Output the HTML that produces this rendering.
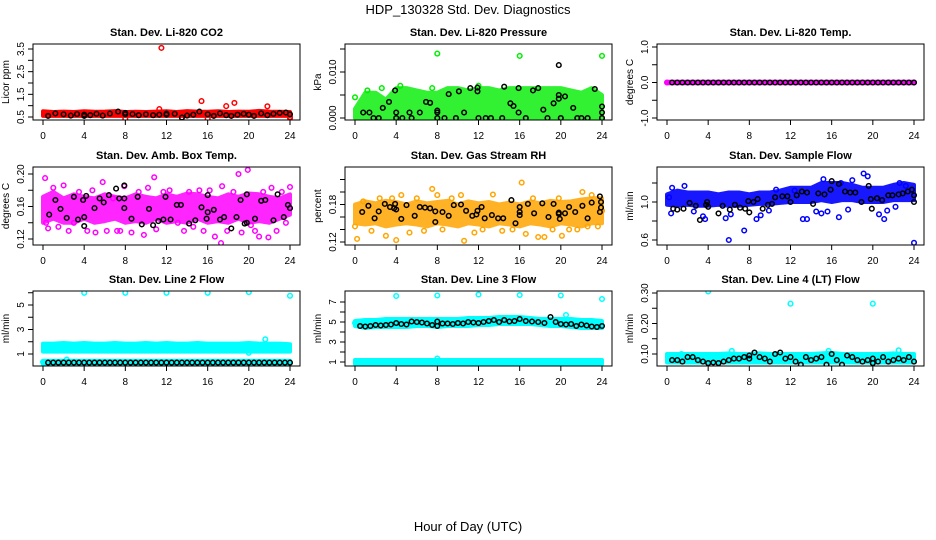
<!DOCTYPE html>
<html><head><meta charset="utf-8"><style>
html,body{margin:0;padding:0;background:#fff;}
svg{display:block;font-family:"Liberation Sans",sans-serif;}
</style></head><body>
<svg id="chart" width="936" height="540" viewBox="0 0 936 540">
<text x="468" y="14" font-size="13" text-anchor="middle">HDP_130328  Std. Dev. Diagnostics</text>
<text x="468" y="531" font-size="13" text-anchor="middle">Hour of Day (UTC)</text>
</svg>
<script>
// ---------- data ----------
const hours = [0,1,2,3,4,5,6,7,8,9,10,11,12,13,14,15,16,17,18,19,20,21,22,23,24];
const xTicks = [0,4,8,12,16,20,24];

const co2Lo = [0.55,0.55,0.55,0.55,0.55,0.55,0.55,0.55,0.55,0.55,0.55,0.55,0.55,0.55,0.55,0.55,0.55,0.55,0.55,0.55,0.55,0.55,0.55,0.55,0.55];
const co2Hi = [0.75,0.72,0.74,0.72,0.75,0.73,0.74,0.76,0.72,0.73,0.72,0.74,0.75,0.72,0.76,0.74,0.73,0.75,0.72,0.74,0.73,0.77,0.74,0.73,0.72];
const co2Pts = [[11.5,3.55],[15.4,1.2],[18.6,1.12],[17.8,0.98],[21.8,0.97],[11.3,0.85],[8,0.42],[16,0.42],[24,0.45],[13.5,0.47],[0.2,0.62],[24,0.5]];
const co2Black = [[0.5,0.55],[1.2,0.66],[2,0.62],[2.7,0.56],[3.3,0.63],[4,0.6],[4,0.55],[4.6,0.58],[5.2,0.64],[5.8,0.56],[6.5,0.65],[7.3,0.74],[8,0.62],[8,0.68],[8.7,0.63],[9.3,0.58],[10,0.62],[10.7,0.58],[11.3,0.6],[12,0.65],[12,0.6],[12.8,0.64],[13.5,0.48],[14,0.56],[14.6,0.6],[15.2,0.74],[16,0.62],[16.6,0.55],[17.2,0.66],[17.8,0.58],[18.3,0.55],[18.9,0.6],[19.5,0.64],[20,0.6],[20.5,0.55],[21.2,0.66],[21.8,0.58],[22.4,0.64],[23,0.68],[23.6,0.7],[24,0.62]];

const presLo = [0,0,0,0,0,0,0,0,0,0,0,0,0,0,0,0,0,0,0,0,0,0,0,0,0];
const presHi = [0.002,0.0055,0.0055,0.004,0.0065,0.0065,0.006,0.0055,0.0055,0.0065,0.0065,0.006,0.0065,0.0065,0.006,0.0065,0.0065,0.0065,0.0065,0.0065,0.0065,0.006,0.0055,0.0065,0.005];
const presPts = [[8,0.014],[16,0.0135],[24,0.0135],[0,0.0045],[1.2,0.006],[2.6,0.0065],[4.4,0.007],[7.5,0.0065],[12,0.007]];
const presBlack = [[1.8,0],[2.3,0],[4,0],[4.6,0],[5.5,0],[8,0],[8.7,0],[9.8,0],[12,0],[12.7,0],[13.2,0],[14.3,0],[16.6,0],[18.7,0],[20,0],[21.6,0],[22,0],[22.6,0],[24,0],[0.8,0.0012],[1.4,0.0012],[2.7,0.0022],[3.3,0.0035],[3.9,0.006],[4,0.0012],[5.3,0.0012],[6.3,0.0012],[6.9,0.0035],[7.3,0.0033],[8,0.0012],[8,0.0016],[9.1,0.0052],[10.1,0.0058],[10.6,0.0012],[11.2,0.0065],[11.9,0.0058],[11.9,0.0066],[14.5,0.0068],[15.1,0.0032],[15.4,0.0026],[15.9,0.0065],[15.9,0.0012],[17.3,0.006],[17.8,0.0065],[18.3,0.0018],[19.3,0.0032],[19.8,0.0115],[19.8,0.005],[19.8,0.0042],[20.4,0.0047],[21.2,0.0022],[23.3,0.0063],[24,0.0025],[24,0.0012]];

const tempLo = [-0.02,-0.02,-0.02,-0.02,-0.02,-0.02,-0.02,-0.02,-0.02,-0.02,-0.02,-0.02,-0.02,-0.02,-0.02,-0.02,-0.02,-0.02,-0.02,-0.02,-0.02,-0.02,-0.02,-0.02,-0.02];
const tempHi = [0.02,0.02,0.02,0.02,0.02,0.02,0.02,0.02,0.02,0.02,0.02,0.02,0.02,0.02,0.02,0.02,0.02,0.02,0.02,0.02,0.02,0.02,0.02,0.02,0.02];
const tempPts = [[0,0],[24,0]];
const tempBlack = [[0.5,0],[1,0],[1.5,0],[2,0],[2.5,0],[3,0],[3.5,0],[4,0],[4.5,0],[5,0],[5.5,0],[6,0],[6.5,0],[7,0],[7.5,0],[8,0],[8.5,0],[9,0],[9.5,0],[10,0],[10.5,0],[11,0],[11.5,0],[12,0],[12.5,0],[13,0],[13.5,0],[14,0],[14.5,0],[15,0],[15.5,0],[16,0],[16.5,0],[17,0],[17.5,0],[18,0],[18.5,0],[19,0],[19.5,0],[20,0],[20.5,0],[21,0],[21.5,0],[22,0],[22.5,0],[23,0],[23.5,0],[24,0]];

const ambLo = [0.14,0.145,0.14,0.14,0.145,0.14,0.142,0.145,0.14,0.142,0.14,0.145,0.14,0.142,0.14,0.145,0.14,0.142,0.14,0.145,0.14,0.142,0.14,0.145,0.15];
const ambHi = [0.172,0.178,0.17,0.175,0.172,0.17,0.175,0.172,0.17,0.175,0.172,0.17,0.175,0.172,0.176,0.175,0.172,0.17,0.175,0.172,0.176,0.175,0.172,0.17,0.175];
const ambPts = [[0.2,0.195],[0.3,0.14],[0.5,0.133],[1,0.183],[1.5,0.135],[2,0.186],[2.5,0.13],[3,0.14],[3.5,0.178],[4.3,0.13],[4.8,0.18],[5.1,0.128],[5.8,0.19],[6.2,0.13],[6.8,0.17],[7.2,0.13],[7.9,0.185],[7.5,0.13],[8.6,0.128],[9.3,0.178],[9.8,0.125],[10.2,0.183],[10.8,0.196],[11,0.132],[11.7,0.178],[12.3,0.18],[13.1,0.14],[13.7,0.13],[14.2,0.178],[14.6,0.135],[15.2,0.18],[15.6,0.13],[16.2,0.18],[16.7,0.123],[17.4,0.185],[17.3,0.115],[17.9,0.13],[18.5,0.178],[19,0.2],[19.3,0.128],[19.9,0.205],[20.2,0.137],[20.6,0.13],[21,0.123],[21.4,0.178],[21.9,0.122],[22.2,0.183],[22.7,0.13],[23.2,0.178],[23.6,0.14],[24,0.184]];
const ambBlack = [[0.6,0.15],[1.2,0.168],[1.7,0.157],[2.3,0.146],[3,0.172],[3.4,0.144],[3.9,0.168],[4,0.136],[4,0.147],[4.2,0.173],[5,0.158],[5.5,0.17],[5.9,0.165],[6.4,0.174],[7.1,0.182],[7.4,0.17],[7.9,0.186],[7.9,0.158],[7.9,0.17],[8.6,0.145],[9.2,0.172],[9.6,0.138],[10.3,0.157],[10.7,0.137],[11.2,0.142],[11.7,0.144],[11.9,0.172],[12.4,0.144],[13,0.162],[13.4,0.162],[14.2,0.139],[14.8,0.143],[15.4,0.159],[15.9,0.145],[16,0.174],[16,0.153],[16.6,0.156],[17.2,0.144],[17.6,0.147],[18.3,0.133],[18.8,0.147],[19.2,0.168],[19.6,0.139],[19.8,0.175],[19.8,0.14],[20.6,0.145],[21.2,0.167],[21.6,0.168],[22.4,0.143],[22.8,0.175],[23.4,0.147],[23.8,0.162],[24,0.158]];

const rhLo = [0.15,0.148,0.15,0.145,0.148,0.15,0.148,0.145,0.15,0.148,0.145,0.15,0.148,0.145,0.15,0.148,0.145,0.15,0.148,0.145,0.15,0.148,0.145,0.15,0.15];
const rhHi = [0.18,0.185,0.182,0.186,0.184,0.18,0.185,0.182,0.184,0.186,0.18,0.185,0.182,0.184,0.18,0.183,0.18,0.185,0.182,0.186,0.184,0.185,0.188,0.19,0.19];
const rhPts = [[0,0.145],[0.2,0.125],[0.8,0.185],[1.6,0.138],[2.4,0.19],[3,0.13],[3.6,0.19],[4,0.123],[4.5,0.195],[5.3,0.135],[6,0.19],[6.7,0.138],[7.5,0.205],[8,0.195],[8.5,0.14],[9.4,0.19],[10.3,0.195],[10.6,0.122],[11.6,0.135],[12.4,0.14],[13.4,0.196],[14.3,0.138],[15.3,0.14],[16.2,0.215],[16.6,0.133],[17.3,0.19],[17.8,0.128],[18.4,0.128],[19.2,0.14],[19.8,0.19],[20.1,0.13],[20.8,0.14],[21.6,0.14],[22.1,0.2],[22.6,0.145],[23,0.195],[23.6,0.145],[24,0.17]];
const rhBlack = [[0.7,0.168],[1.3,0.178],[1.9,0.158],[2.3,0.169],[2.9,0.181],[3.4,0.176],[3.8,0.174],[3.9,0.181],[4,0.172],[4.5,0.157],[5,0.179],[5.8,0.162],[6.3,0.176],[6.8,0.175],[7.3,0.174],[7.8,0.169],[7.8,0.152],[8.5,0.168],[9.1,0.162],[9.6,0.179],[10.3,0.18],[10.8,0.17],[11.4,0.162],[11.8,0.164],[11.9,0.17],[12.3,0.176],[12.6,0.158],[13.3,0.163],[13.9,0.158],[14.4,0.158],[15.2,0.187],[15.6,0.15],[16,0.176],[16,0.168],[16,0.163],[16.8,0.181],[17.4,0.166],[18.2,0.182],[18.8,0.16],[19.3,0.181],[19.8,0.167],[19.8,0.165],[19.9,0.157],[20.4,0.166],[20.8,0.176],[21.4,0.168],[22.1,0.178],[22.6,0.158],[23,0.183],[23.8,0.193],[23.9,0.184],[23.9,0.175],[23.8,0.168]];

const flowLo = [0.97,0.96,0.97,0.96,0.96,0.97,0.96,0.96,0.97,0.98,0.98,0.99,1.0,1.0,1.0,1.02,1.0,1.02,1.02,1.0,1.0,1.0,1.02,1.02,1.02];
const flowHi = [1.08,1.12,1.1,1.1,1.1,1.08,1.1,1.1,1.08,1.1,1.1,1.12,1.15,1.15,1.15,1.2,1.2,1.2,1.18,1.15,1.15,1.15,1.18,1.2,1.18];
const flowPts = [[0.2,1.05],[0.4,0.88],[0.5,1.15],[1.7,1.17],[2.6,0.9],[3.5,0.85],[3.7,0.82],[6,0.6],[6.2,0.87],[5.7,0.83],[7.5,0.7],[8.7,0.82],[9.1,0.86],[9.9,0.91],[10.6,1.13],[12.4,1.12],[13.2,0.82],[13.6,0.82],[14.5,0.9],[15.6,0.9],[15,0.88],[15.2,1.24],[16.7,0.84],[16.9,1.2],[17.6,0.92],[18,1.23],[19.1,1.3],[19.5,1.27],[20.6,0.87],[21.1,0.82],[21.4,0.91],[22.2,0.95],[22.6,1.2],[23.2,1.17],[24,0.57]];
const flowBlack = [[0.6,0.93],[1,0.92],[1.6,0.93],[2.2,0.99],[2.8,0.96],[3.2,0.81],[3.8,0.97],[3.9,1.0],[4,0.95],[5,0.88],[5.4,0.96],[6.1,0.92],[6.6,0.97],[7.1,0.94],[7.6,0.93],[7.9,1.01],[8,0.89],[8.4,1.0],[8.8,1.03],[9.3,0.93],[9.8,0.97],[10.2,0.98],[10.5,1.05],[11.2,1.06],[11.7,1.06],[12,1.0],[12.6,1.07],[13.1,1.11],[13.6,1.1],[14.2,0.98],[14.7,1.09],[15.3,1.08],[15.9,1.13],[16,1.22],[16.7,1.19],[17.3,1.11],[17.8,1.1],[18.3,1.1],[18.9,1.0],[19.6,1.17],[19.8,1.03],[19.9,0.93],[20.4,1.04],[20.9,1.02],[21.5,1.07],[21.9,1.07],[22.5,1.08],[22.9,1.09],[23.4,1.11],[23.8,1.13],[24,1.0],[24,1.07]];

const l2Lo = [1.2,1.2,1.2,1.2,1.2,1.2,1.2,1.2,1.2,1.2,1.2,1.2,1.2,1.2,1.2,1.2,1.2,1.2,1.2,1.2,1.2,1.2,1.2,1.2,1.2];
const l2Hi = [1.85,1.85,1.9,1.85,1.9,1.85,1.85,1.9,1.85,1.85,1.9,1.85,1.9,1.85,1.85,1.9,1.85,1.85,1.85,1.85,1.9,1.85,1.85,1.85,1.8];
const l2Lo2 = [0.15,0.15,0.15,0.15,0.15,0.15,0.15,0.15,0.15,0.15,0.15,0.15,0.15,0.15,0.15,0.15,0.15,0.15,0.15,0.15,0.15,0.15,0.15,0.15,0.15];
const l2Hi2 = [0.45,0.45,0.45,0.45,0.45,0.45,0.45,0.45,0.45,0.45,0.45,0.45,0.45,0.45,0.45,0.45,0.45,0.45,0.45,0.45,0.45,0.45,0.45,0.45,0.45];
const l2Pts = [[4,6.0],[8,6.0],[12,6.0],[16,6.0],[20,6.05],[24,5.75],[21.6,2.2],[2.3,0.55],[20,1.1],[0,0.35]];
const l2Black = [[0.5,0.3],[1,0.3],[1.5,0.3],[2,0.3],[2.5,0.3],[3,0.3],[3.5,0.3],[4,0.3],[4.5,0.3],[5,0.3],[5.5,0.3],[6,0.3],[6.5,0.3],[7,0.3],[7.5,0.3],[8,0.3],[8.5,0.3],[9,0.3],[9.5,0.3],[10,0.3],[10.5,0.3],[11,0.3],[11.5,0.3],[12,0.3],[12.5,0.3],[13,0.3],[13.5,0.3],[14,0.3],[14.5,0.3],[15,0.3],[15.5,0.3],[16,0.3],[16.5,0.3],[17,0.3],[17.5,0.3],[18,0.3],[18.5,0.3],[19,0.3],[19.5,0.3],[20,0.3],[20.5,0.3],[21,0.3],[21.5,0.3],[22,0.3],[22.5,0.3],[23,0.3],[23.5,0.3],[24,0.3]];

const l3Lo = [4.6,4.4,4.5,4.5,4.5,4.5,4.6,4.6,4.5,4.6,4.6,4.6,4.7,4.7,4.8,4.8,4.8,4.8,4.7,4.6,4.6,4.5,4.4,4.4,4.4];
const l3Hi = [5.1,5.2,5.2,5.3,5.3,5.3,5.3,5.3,5.3,5.3,5.3,5.4,5.4,5.4,5.5,5.5,5.5,5.4,5.3,5.3,5.3,5.3,5.2,5.2,5.1];
const l3Lo2 = [0.8,0.8,0.8,0.8,0.8,0.8,0.8,0.8,0.8,0.8,0.8,0.8,0.8,0.8,0.8,0.8,0.8,0.8,0.8,0.8,0.8,0.8,0.8,0.8,0.8];
const l3Hi2 = [1.2,1.2,1.2,1.2,1.2,1.2,1.2,1.2,1.2,1.2,1.2,1.2,1.2,1.2,1.2,1.2,1.2,1.2,1.2,1.2,1.2,1.2,1.2,1.2,1.2];
const l3Pts = [[4,7.6],[8,7.65],[12,7.75],[16,7.7],[20,7.65],[24,7.3],[20.5,5.7],[0,4.9],[8,1.35]];
const l3Black = [[0.5,4.6],[1,4.55],[1.5,4.6],[2,4.7],[2.5,4.65],[3,4.7],[3.5,4.75],[4,4.9],[4.5,4.8],[5,4.75],[5.5,5.05],[6,5.0],[6.5,4.95],[7,4.85],[7.5,4.7],[8,4.6],[8,5.05],[8.5,4.85],[9,4.85],[9.5,4.8],[10,4.9],[10.5,4.85],[11,5.0],[11.5,4.95],[12,4.9],[12.5,5.0],[13,5.1],[13.5,5.2],[14,5.0],[14.5,5.2],[15,5.05],[15.5,5.1],[16,5.3],[16.6,5.1],[17.2,5.05],[17.8,5.0],[18.4,4.9],[19,5.5],[19.5,5.0],[20,4.8],[20.5,4.75],[21,4.8],[21.5,4.6],[22,4.75],[22.5,4.65],[23,4.55],[23.5,4.5],[24,4.6]];

const l4Lo = [0.072,0.072,0.072,0.072,0.072,0.072,0.072,0.072,0.072,0.072,0.072,0.072,0.072,0.072,0.072,0.072,0.072,0.072,0.072,0.072,0.072,0.072,0.072,0.072,0.072];
const l4Hi = [0.1,0.1,0.1,0.1,0.1,0.1,0.102,0.1,0.1,0.102,0.1,0.1,0.1,0.1,0.1,0.102,0.104,0.1,0.1,0.1,0.1,0.1,0.102,0.1,0.1];
const l4Pts = [[4,0.305],[12,0.265],[20,0.265],[1.4,0.1],[6.3,0.11],[15.7,0.11],[22.5,0.112]];
const l4Black = [[0.5,0.08],[1,0.08],[1.5,0.075],[2,0.09],[2.5,0.09],[3,0.08],[3.5,0.075],[4,0.07],[4.5,0.072],[5,0.07],[5.5,0.075],[6,0.08],[6.5,0.085],[7,0.085],[7.5,0.09],[8,0.085],[8,0.095],[8.5,0.105],[9,0.09],[9.5,0.085],[10,0.075],[10.5,0.1],[11,0.105],[11.5,0.085],[12,0.09],[12.5,0.075],[13,0.065],[13.5,0.09],[14,0.08],[14.5,0.085],[15,0.09],[15.5,0.065],[16,0.1],[16.5,0.08],[17,0.065],[17.5,0.095],[18,0.09],[18.5,0.08],[19,0.075],[19.5,0.08],[20,0.085],[20,0.07],[20.5,0.075],[21,0.09],[21.5,0.075],[22,0.08],[22.5,0.085],[23,0.08],[23.5,0.09],[24,0.075]];

// ---------- layout ----------
const NS = "http://www.w3.org/2000/svg";
const svg = document.getElementById('chart');
const colX0 = [43, 355, 667];
const rowTop = [44, 167, 291];
const rowBot = [120, 245, 366];

const panels = [
 {name:'co2', title:'Stan. Dev. Li-820 CO2', ylab:'Licor ppm', col:0, row:0, color:'#ff0000', v1:0.5,p1:117,v2:3.5,p2:49,
  ticks:[0.5,1,1.5,2,2.5,3,3.5], labels:[['0.5',0.5],['1.5',1.5],['2.5',2.5],['3.5',3.5]], bands:[[co2Lo,co2Hi]], pts:co2Pts, black:co2Black, op:1},
 {name:'pressure', title:'Stan. Dev. Li-820 Pressure', ylab:'kPa', col:1, row:0, color:'#00ee00', v1:0,p1:118,v2:0.01,p2:72,
  ticks:[0,0.005,0.01,0.015], labels:[['0.000',0],['0.010',0.01]], bands:[[presLo,presHi]], pts:presPts, black:presBlack, op:0.8},
 {name:'temp', title:'Stan. Dev. Li-820 Temp.', ylab:'degrees C', col:2, row:0, color:'#ff00ff', v1:-1,p1:118,v2:1,p2:47,
  ticks:[-1,-0.5,0,0.5,1], labels:[['-1.0',-1],['0.0',0],['1.0',1]], bands:[[tempLo,tempHi]], pts:tempPts, black:tempBlack, op:1},
 {name:'amb-box-temp', title:'Stan. Dev. Amb. Box Temp.', ylab:'degrees C', col:0, row:1, color:'#ff00ff', v1:0.12,p1:239,v2:0.2,p2:174,
  ticks:[0.12,0.14,0.16,0.18,0.2], labels:[['0.12',0.12],['0.16',0.16],['0.20',0.2]], bands:[[ambLo,ambHi]], pts:ambPts, black:ambBlack, op:0.85},
 {name:'gas-stream-rh', title:'Stan. Dev. Gas Stream RH', ylab:'percent', col:1, row:1, color:'#ffa500', v1:0.12,p1:242,v2:0.18,p2:204.5,
  ticks:[0.12,0.14,0.16,0.18,0.2,0.22], labels:[['0.12',0.12],['0.18',0.18]], bands:[[rhLo,rhHi]], pts:rhPts, black:rhBlack, op:0.85},
 {name:'sample-flow', title:'Stan. Dev. Sample Flow', ylab:'ml/min', col:2, row:1, color:'#0000ff', v1:0.6,p1:240,v2:1.0,p2:202,
  ticks:[0.6,0.8,1.0,1.2], labels:[['0.6',0.6],['1.0',1.0]], bands:[[flowLo,flowHi]], pts:flowPts, black:flowBlack, op:0.9},
 {name:'line2-flow', title:'Stan. Dev. Line 2 Flow', ylab:'ml/min', col:0, row:2, color:'#00ffff', v1:1,p1:354,v2:5,p2:305,
  ticks:[1,2,3,4,5,6], labels:[['1',1],['3',3],['5',5]], bands:[[l2Lo,l2Hi],[l2Lo2,l2Hi2]], pts:l2Pts, black:l2Black, op:1},
 {name:'line3-flow', title:'Stan. Dev. Line 3 Flow', ylab:'ml/min', col:1, row:2, color:'#00ffff', v1:1,p1:362,v2:7,p2:302,
  ticks:[1,2,3,4,5,6,7], labels:[['1',1],['3',3],['5',5],['7',7]], bands:[[l3Lo,l3Hi],[l3Lo2,l3Hi2]], pts:l3Pts, black:l3Black, op:1},
 {name:'line4-flow', title:'Stan. Dev. Line 4 (LT) Flow', ylab:'ml/min', col:2, row:2, color:'#00ffff', v1:0.1,p1:354,v2:0.3,p2:293,
  ticks:[0.1,0.15,0.2,0.25,0.3], labels:[['0.10',0.1],['0.20',0.2],['0.30',0.3]], bands:[[l4Lo,l4Hi]], pts:l4Pts, black:l4Black, op:1}
];

function mk(tag, attrs, parent){
  const e = document.createElementNS(NS, tag);
  for (const k in attrs) e.setAttribute(k, attrs[k]);
  (parent||svg).appendChild(e);
  return e;
}

panels.forEach(p => {
  const x0 = colX0[p.col], x24 = x0 + 247;
  const top = rowTop[p.row], bot = rowBot[p.row];
  const left = x0 - 10, right = x24 + 10;
  const xs = h => x0 + (h/24)*(x24-x0);
  const ys = v => p.p1 + (v - p.v1) * (p.p2 - p.p1) / (p.v2 - p.v1);

  const g = mk('g', {});
  
  

  const cp = mk('clipPath', {id:'clip-'+p.name}, g);
  mk('rect', {x:left, y:top, width:right-left, height:bot-top}, cp);
  const plot = mk('g', {'clip-path':'url(#clip-'+p.name+')'}, g);

  // dense colored cloud as band
  p.bands.forEach((b, bi) => {
    let d = '';
    hours.forEach((h,i) => { d += (i?'L':'M') + xs(h).toFixed(1) + ',' + ys(b[1][i]).toFixed(1); });
    for (let i = hours.length-1; i >= 0; i--) d += 'L' + xs(hours[i]).toFixed(1) + ',' + ys(b[0][i]).toFixed(1);
    d += 'Z';
    const band = mk('path', {d:d, fill:p.color, stroke:p.color, 'stroke-width':4, 'stroke-linejoin':'round', opacity:p.op}, plot);
    
    
  });
  p.pts.forEach(pt => {
    const c = mk('circle', {cx:xs(pt[0]).toFixed(1), cy:ys(pt[1]).toFixed(1), r:2.3, fill:'none', stroke:p.color, 'stroke-width':1.5}, plot);
    
    
  });
  p.black.forEach(pt => {
    const c = mk('circle', {cx:xs(pt[0]).toFixed(1), cy:ys(pt[1]).toFixed(1), r:2.3, fill:'none', stroke:'#000', 'stroke-width':1.5}, plot);
    
    
  });

  const box = mk('rect', {x:left, y:top, width:right-left, height:bot-top, fill:'none', stroke:'#000', 'stroke-width':1}, g);
  
  

  const t = mk('text', {x:(left+right)/2, y:top-8, 'font-size':11, 'font-weight':'bold', 'text-anchor':'middle'}, g);
  t.textContent = p.title;
  
  

  // x axis
  xTicks.forEach(h => {
    mk('line', {x1:xs(h), x2:xs(h), y1:bot, y2:bot+5, stroke:'#000'}, g);
    const l = mk('text', {x:xs(h), y:bot+19, 'font-size':10, 'text-anchor':'middle'}, g);
    l.textContent = h;
    
    
  });
  // y axis
  p.ticks.forEach(v => {
    mk('line', {x1:left-5, x2:left, y1:ys(v), y2:ys(v), stroke:'#000'}, g);
  });
  p.labels.forEach(lb => {
    const y = ys(lb[1]);
    const l = mk('text', {x:left-9, y:y, 'font-size':10, 'text-anchor':'middle', transform:'rotate(-90 '+(left-9)+' '+y+')'}, g);
    l.textContent = lb[0];
    
    
  });
  const yc = (top+bot)/2, yx = left-24;
  const yl = mk('text', {x:yx, y:yc, 'font-size':10, 'text-anchor':'middle', transform:'rotate(-90 '+yx+' '+yc+')'}, g);
  yl.textContent = p.ylab;
  
  
});
</script>
</body></html>
